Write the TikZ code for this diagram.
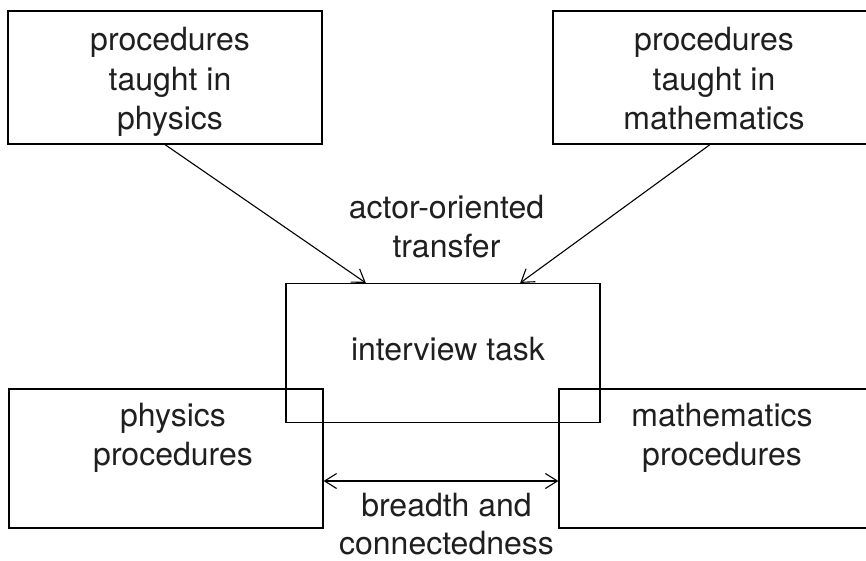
\documentclass[tikz,border=0pt]{standalone}
\usepackage{fontspec}
\setmainfont{TeX Gyre Heros}
\usetikzlibrary{arrows.meta,calc}
% invisible strut so every line has the same height and depth
\newcommand\lnstrut{\vphantom{dp}}
\newcommand\lnhigh{\vphantom{d}}
\tikzset{
  box/.style={draw, line width=1.2pt, minimum width=314pt, inner sep=0pt},
  txt/.style={align=center, inner sep=0pt, text=black!88,
    font=\fontsize{32}{39.5}\selectfont},
  arr/.style={line width=1.1pt, -{Straight Barb[length=12pt,width=16pt,line width=1.1pt]}},
  darr/.style={line width=1.1pt, {Straight Barb[length=12pt,width=15pt,line width=1.1pt]}-{Straight Barb[length=12pt,width=15pt,line width=1.1pt]}}
}
\begin{document}
\begin{tikzpicture}[x=1pt,y=-1pt]
\useasboundingbox (0,0) rectangle (866,561);

% boxes
\node[box, minimum height=133pt] (tl) at (165,77.5) {};
\node[box, minimum height=133pt] (tr) at (710,77.5) {};
\node[box, minimum height=139pt] (mid) at (443,353) {};
\node[box, minimum height=139pt] (bl) at (166,458.5) {};
\node[box, minimum height=139pt] (br) at (716,458.5) {};

% box texts
\node[txt] (tl-t) at (170,82) {\lnstrut procedures\\\lnstrut taught in\\\lnstrut physics};
\node[txt] (tr-t) at (714,82) {\lnstrut procedures\\\lnstrut taught in\\\lnstrut mathematics};
\node[txt] (mid-t) at (448,352) {\lnstrut interview task};
\node[txt, font=\fontsize{32}{38.7}\selectfont] (bl-t) at (173,437.7) {\lnstrut physics\\\lnstrut procedures};
\node[txt, font=\fontsize{32}{38.7}\selectfont] (br-t) at (722,437.7) {\lnstrut mathematics\\\lnstrut procedures};

% connector labels
\node[txt] (transfer) at (446.5,229.7) {\lnstrut actor-oriented\\\lnstrut transfer};
\node[txt, font=\fontsize{32}{38}\selectfont] (breadth) at (446.5,524) {\lnstrut breadth and\\\lnhigh connectedness};

% connectors
\coordinate (mid-in1) at ($(mid.north west)!0.255!(mid.north east)$);
\coordinate (mid-in2) at ($(mid.north west)!0.745!(mid.north east)$);
\draw[arr] (tl.south) -- (mid-in1);
\draw[arr] (tr.south) -- (mid-in2);
\coordinate (bl-out) at ($(bl.east)+(0,22.5)$);
\coordinate (br-in) at ($(br.west)+(0,22.5)$);
\draw[darr] (bl-out) -- (br-in);
\end{tikzpicture}
\end{document}
